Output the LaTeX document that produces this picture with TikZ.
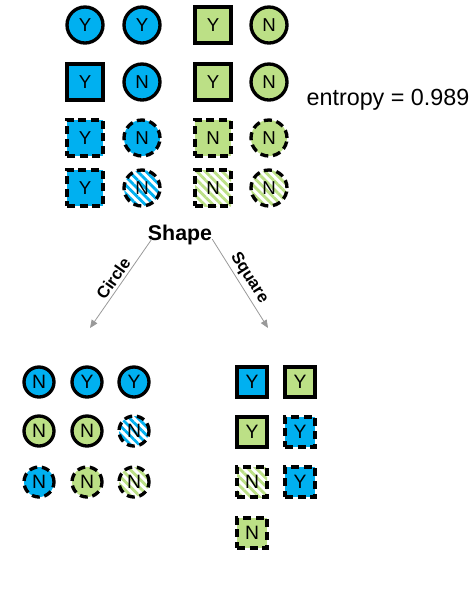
\documentclass[tikz,border=0pt]{standalone}
\usepackage{fontspec}
\setmainfont{Liberation Sans}
\usetikzlibrary{arrows.meta,patterns.meta,calc}
\definecolor{cblue}{RGB}{0,176,240}
\definecolor{cgreen}{RGB}{188,224,134}
\tikzset{
	item/.style={draw=black,line width=2.5pt,inner sep=0pt},
	big/.style={minimum size=27pt,font=\fontsize{14}{14}\selectfont},
	small/.style={minimum size=22.5pt,font=\fontsize{14.5}{14.5}\selectfont},
	circ/.style={item,circle},
	sqr/.style={item,rectangle},
	dashedge/.style={dash pattern=on 6pt off 3.5pt},
	bl/.style={fill=cblue},
	gr/.style={fill=cgreen},
	blh/.style={pattern={Lines[angle=-45,distance=4.5pt,line width=2.1pt]},pattern color=cblue},
	grh/.style={pattern={Lines[angle=-45,distance=4.5pt,line width=2.1pt]},pattern color=cgreen},
	arr/.style={gray!80,line width=0.6pt,-{Triangle[length=6pt,width=5pt]}},
	lbl/.style={black,inner sep=2pt,font=\bfseries\fontsize{12.5}{12.5}\selectfont},
}
\begin{document}
\begin{tikzpicture}[x=0.75pt,y=-0.75pt]
	\useasboundingbox (0,0) rectangle (473,594);
	% parent set
	\node[circ,big,bl] (p11) at (85,25) {Y};
	\node[circ,big,bl] (p12) at (142,25) {Y};
	\node[sqr,big,gr] (p13) at (213,25) {Y};
	\node[circ,big,gr] (p14) at (269,25) {N};
	\node[sqr,big,bl] (p21) at (85,82) {Y};
	\node[circ,big,bl] (p22) at (142,82) {N};
	\node[sqr,big,gr] (p23) at (213,82) {Y};
	\node[circ,big,gr] (p24) at (269,82) {N};
	\node[sqr,big,bl,dashedge] (p31) at (85,138) {Y};
	\node[circ,big,bl,dashedge] (p32) at (142,138) {N};
	\node[sqr,big,gr,dashedge] (p33) at (213,138) {N};
	\node[circ,big,gr,dashedge] (p34) at (269,138) {N};
	\node[sqr,big,bl,dashedge] (p41) at (85,188) {Y};
	\node[circ,big,blh,dashedge] (p42) at (142,188) {N};
	\node[sqr,big,grh,dashedge] (p43) at (213,188) {N};
	\node[circ,big,grh,dashedge] (p44) at (269,188) {N};
	\node[font=\fontsize{17.5}{17.5}\selectfont] (entropy) at (388,100) {entropy = 0.989};
	% split
	\node[font=\bfseries\fontsize{16}{16}\selectfont,inner sep=0pt] (shape) at (180,235) {Shape};
	\coordinate (lcirc) at (90,328);
	\coordinate (lsqr) at (268,328);
	\draw[arr] ($(shape.south west)+(4,-6)$) -- (lcirc) node[midway,sloped,above,lbl] {Circle};
	\draw[arr] ($(shape.south east)+(0,-6)$) -- (lsqr) node[midway,sloped,above,lbl] {Square};
	% circle branch
	\node[circ,small,bl] (c11) at (39,382) {N};
	\node[circ,small,bl] (c12) at (87,382) {Y};
	\node[circ,small,bl] (c13) at (134,382) {Y};
	\node[circ,small,gr] (c21) at (39,431) {N};
	\node[circ,small,gr] (c22) at (87,431) {N};
	\node[circ,small,blh,dashedge] (c23) at (134,431) {N};
	\node[circ,small,bl,dashedge] (c31) at (39,482) {N};
	\node[circ,small,gr,dashedge] (c32) at (87,482) {N};
	\node[circ,small,grh,dashedge] (c33) at (134,482) {N};
	% square branch
	\node[sqr,small,bl] (s11) at (252,382) {Y};
	\node[sqr,small,gr] (s12) at (300,382) {Y};
	\node[sqr,small,gr] (s21) at (252,432) {Y};
	\node[sqr,small,bl,dashedge] (s22) at (300,432) {Y};
	\node[sqr,small,grh,dashedge] (s31) at (252,482) {N};
	\node[sqr,small,bl,dashedge] (s32) at (300,482) {Y};
	\node[sqr,small,gr,dashedge] (s41) at (252,533) {N};
\end{tikzpicture}
\end{document}
